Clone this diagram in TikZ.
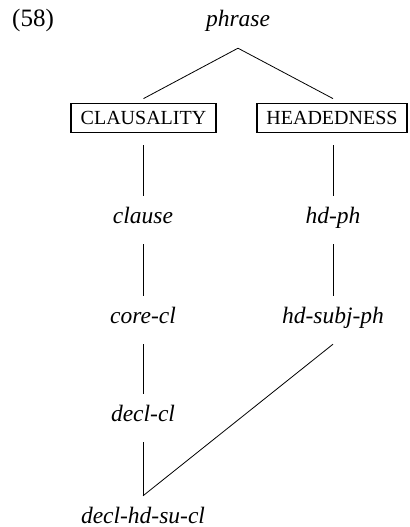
\documentclass[tikz,border=0pt]{standalone}
\usepackage{fontspec}
\setmainfont{Liberation Serif}
\begin{document}
\begin{tikzpicture}[x=1bp,y=-1bp,
  type/.style={inner sep=0pt, text height=27bp, text depth=21bp,
    font=\fontsize{23.5bp}{28bp}\selectfont\itshape},
  dimbox/.style={draw, line width=1.8bp, inner xsep=9.5bp, inner ysep=7.5bp,
    text height=14bp, text depth=0pt,
    font=\fontsize{20bp}{24bp}\selectfont},
  link/.style={line width=0.8bp}]
\useasboundingbox (0,0) rectangle (409,527);

% example number
\node[anchor=base west, inner sep=0pt, font=\fontsize{25bp}{30bp}\selectfont] (num) at (12,27) {(58)};

% top type
\node[type, anchor=base] (phrase) at (238,27) {phrase};

% dimensions
\node[dimbox, anchor=base] (clausality) at (143.5,125) {CLAUSALITY};
\node[dimbox, anchor=base] (headedness) at (332,125) {HEADEDNESS};

% clausality column
\node[type, anchor=base] (clause) at (143,223) {clause};
\node[type, anchor=base] (corecl) at (143,323) {core-cl};
\node[type, anchor=base] (declcl) at (143,421) {decl-cl};
\node[type, anchor=base] (declhdsucl) at (143,523) {decl-hd-su-cl};

% headedness column
\node[type, anchor=base] (hdph) at (333,223) {hd-ph};
\node[type, anchor=base] (hdsubjph) at (333,323) {hd-subj-ph};

% connectors
\draw[link] (phrase.south) -- ([yshift=4bp]clausality.north);
\draw[link] (phrase.south) -- ([xshift=1bp,yshift=4bp]headedness.north);
\draw[link, shorten <=12bp] ([xshift=-0.5bp]clausality.south) -- (clause.north);
\draw[link, shorten <=12bp] ([xshift=1bp]headedness.south) -- (hdph.north);
\draw[link] (clause.south) -- (corecl.north);
\draw[link] (corecl.south) -- (declcl.north);
\draw[link] (declcl.south) -- (declhdsucl.north);
\draw[link] (hdph.south) -- (hdsubjph.north);
\draw[link] (hdsubjph.south) -- (declhdsucl.north);
\end{tikzpicture}
\end{document}
